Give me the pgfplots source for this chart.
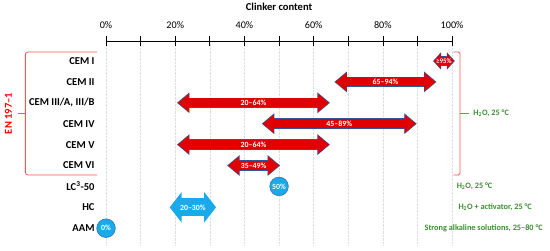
\documentclass[border=0pt]{standalone}
\usepackage{fontspec}
\setmainfont{Carlito}
\usepackage{pgfplots}
\pgfplotsset{compat=1.18}
\usetikzlibrary{arrows.meta,calc}
\definecolor{arrred}{HTML}{E00000}
\definecolor{arrblue}{HTML}{2F5597}
\definecolor{lblue}{HTML}{1AA9EA}
\definecolor{cblue}{HTML}{2E75B6}
\definecolor{grn}{HTML}{3A8F2E}
\definecolor{brk}{HTML}{FF5555}
\tikzset{
  outerarr/.style={draw=arrblue, line width=10.6bp, line cap=butt,
     {Triangle[width=20bp,length=12.5bp]}-{Triangle[width=20bp,length=12.5bp]}},
  innerarr/.style={draw=arrred, line width=9bp, line cap=butt, shorten >=1.1bp, shorten <=1.1bp,
     {Triangle[width=17.6bp,length=11bp]}-{Triangle[width=17.6bp,length=11bp]}},
  smallouter/.style={draw=arrblue, line width=10bp, line cap=butt,
     {Triangle[width=17bp,length=8bp]}-{Triangle[width=17bp,length=8bp]}},
  smallinner/.style={draw=arrred, line width=8.4bp, line cap=butt, shorten >=1bp, shorten <=1bp,
     {Triangle[width=14.6bp,length=6.8bp]}-{Triangle[width=14.6bp,length=6.8bp]}},
  arrlab/.style={text=white, font=\fontsize{7.9}{9}\selectfont\bfseries, inner sep=0pt},
  grtext/.style={text=grn, font=\fontsize{8.3}{10}\selectfont\bfseries, anchor=west, inner sep=0pt},
}
\begin{document}
\begin{tikzpicture}
\begin{axis}[
  x=3.46bp, y=20.9bp,
  xmin=0, xmax=100, ymin=-9.8, ymax=-0.043,
  clip=false,
  axis x line=top,
  axis y line*=left,
  y axis line style={draw=none},
  x axis line style={-, black, line width=0.7bp},
  xtick={0,20,40,60,80,100},
  minor xtick={10,30,50,70,90},
  xticklabels={0\%,20\%,40\%,60\%,80\%,100\%},
  xticklabel style={font=\fontsize{10.2}{12}\selectfont, yshift=4bp},
  tick align=center,
  major tick length=10bp, minor tick length=10bp,
  every tick/.style={black, line width=0.7bp},
  xmajorgrids, xminorgrids,
  major grid style={densely dotted, black!13, line width=0.6bp},
  minor grid style={densely dotted, black!13, line width=0.6bp},
  ytick={-1,-2,-3,-4,-5,-6,-7,-8,-9},
  yticklabels={CEM I,CEM II,{CEM III/A, III/B},CEM IV,CEM V,CEM VI,LC\textsuperscript{3}-50,HC,AAM},
  yticklabel style={font=\fontsize{10.6}{12}\selectfont\bfseries, anchor=east, xshift=-3bp},
  ytick style={draw=none},
]
% red arrows (EN 197-1 cements)
\addplot[smallouter] coordinates {(94.5,-1) (100.8,-1)};
\addplot[smallinner] coordinates {(94.5,-1) (100.8,-1)} node[pos=0.5, arrlab, font=\fontsize{7}{8}\selectfont\bfseries] {≥95\%};
\addplot[outerarr] coordinates {(66,-2) (95.5,-2)};
\addplot[innerarr] coordinates {(66,-2) (95.5,-2)} node[pos=0.5, arrlab] {65–94\%};
\addplot[outerarr] coordinates {(20.5,-3) (64.7,-3)};
\addplot[innerarr] coordinates {(20.5,-3) (64.7,-3)} node[pos=0.5, arrlab] {20–64\%};
\addplot[outerarr] coordinates {(45,-4) (89.8,-4)};
\addplot[innerarr] coordinates {(45,-4) (89.8,-4)} node[pos=0.5, arrlab] {45–89\%};
\addplot[outerarr] coordinates {(20.5,-5) (64.7,-5)};
\addplot[innerarr] coordinates {(20.5,-5) (64.7,-5)} node[pos=0.5, arrlab] {20–64\%};
\addplot[outerarr] coordinates {(35,-6) (50.3,-6)};
\addplot[innerarr] coordinates {(35,-6) (50.3,-6)} node[pos=0.5, arrlab] {35–49\%};
% HC
\addplot[draw=lblue, line width=18bp, line cap=butt,
  {Triangle[width=30bp,length=12bp]}-{Triangle[width=30bp,length=12bp]}]
  coordinates {(18.4,-8) (31.8,-8)} node[pos=0.5, arrlab] {20–30\%};
% circles
\addplot[only marks, mark=*, mark size=9.3bp, mark options={fill=lblue, draw=cblue, line width=0.6bp},
  nodes near coords, point meta=explicit symbolic,
  every node near coord/.append style={anchor=center, text=white, font=\fontsize{7.9}{9}\selectfont\bfseries, inner sep=0pt}]
  coordinates {(50,-7) [50\%] (0,-9) [0\%]};
% title
\node[font=\fontsize{10.6}{12}\selectfont\bfseries] at (axis cs:50,1.6) {Clinker content};
% left bracket
\draw[brk, line width=0.8bp, rounded corners=2.5bp] (axis cs:-2.6,-0.57) -- (axis cs:-23.3,-0.57) -- (axis cs:-23.3,-6.45) -- (axis cs:-2.6,-6.45);
\draw[brk, line width=0.8bp] (axis cs:-23.3,-3.51) -- (axis cs:-25.4,-3.51);
\node[rotate=90, text=red, font=\fontsize{10.6}{12}\selectfont\bfseries] at (axis cs:-28.2,-3.51) {EN 197–1};
% right bracket
\draw[brk, line width=0.8bp, rounded corners=1.5bp] (axis cs:100.4,-0.57) -- (axis cs:102.3,-0.57) -- (axis cs:102.3,-6.45) -- (axis cs:100.4,-6.45);
\draw[brk, line width=0.8bp] (axis cs:102.3,-3.51) -- (axis cs:104.8,-3.51);
\node[grtext] at (axis cs:106.1,-3.51) {H\textsubscript{2}O, 25 °C};
\node[grtext] at (axis cs:101.3,-7) {H\textsubscript{2}O, 25 °C};
\node[grtext] at (axis cs:101.8,-8) {H\textsubscript{2}O + activator, 25 °C};
\node[grtext] at (axis cs:92,-9) {Strong alkaline solutions, 25–80 °C};
\coordinate (bbsw) at (axis cs:-30.64,-10.043);
\coordinate (bbne) at (axis cs:128.3,1.919);
\end{axis}
\pgfresetboundingbox
\path[use as bounding box] (bbsw) rectangle (bbne);
\end{tikzpicture}
\end{document}
